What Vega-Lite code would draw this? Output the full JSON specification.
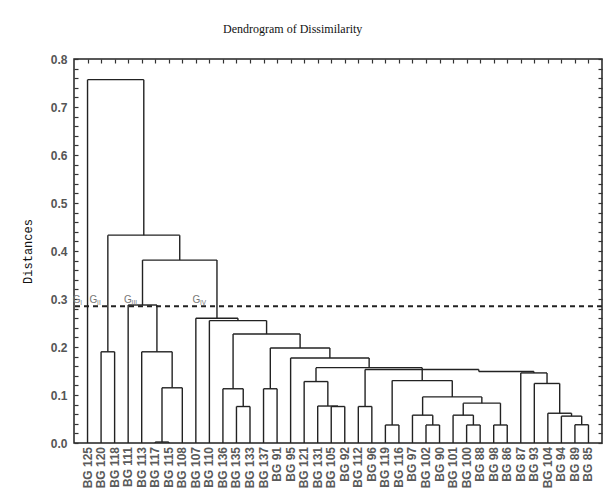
{
  "$schema": "https://vega.github.io/schema/vega-lite/v6.json",
  "width": 528,
  "height": 384,
  "autosize": "none",
  "padding": {"left": 74, "top": 59, "right": 1, "bottom": 59},
  "background": "white",
  "config": {"view": {"stroke": "#222", "strokeWidth": 1.5}},
  "title": {
    "text": "Dendrogram of Dissimilarity",
    "font": "Liberation Serif",
    "fontSize": 12,
    "fontWeight": "normal",
    "color": "#111",
    "anchor": "start",
    "frame": "group",
    "dx": 149,
    "offset": 17
  },
  "datasets": {
    "merges": [
      {"id": "root", "xl": 1, "xr": 5.155, "h": 0.757, "hl": 0, "hr": 0.433},
      {"id": "N", "xl": 2.5, "xr": 7.81, "h": 0.433, "hl": 0.19, "hr": 0.381},
      {"id": "II", "xl": 2, "xr": 3, "h": 0.19, "hl": 0, "hr": 0},
      {"id": "M", "xl": 5.06, "xr": 10.56, "h": 0.381, "hl": 0.2875, "hr": 0.26},
      {"id": "d", "xl": 4, "xr": 6.125, "h": 0.2875, "hl": 0, "hr": 0.19},
      {"id": "c", "xl": 5, "xr": 7.25, "h": 0.19, "hl": 0, "hr": 0.115},
      {"id": "b", "xl": 6.5, "xr": 8, "h": 0.115, "hl": 0.002, "hr": 0},
      {"id": "a", "xl": 6, "xr": 7, "h": 0.002, "hl": 0, "hr": 0},
      {"id": "A", "xl": 9, "xr": 12.11, "h": 0.26, "hl": 0, "hr": 0.255},
      {"id": "B", "xl": 10, "xr": 14.225, "h": 0.255, "hl": 0, "hr": 0.227},
      {"id": "C", "xl": 11.75, "xr": 16.7, "h": 0.227, "hl": 0.113, "hr": 0.198},
      {"id": "f", "xl": 11, "xr": 12.5, "h": 0.113, "hl": 0, "hr": 0.076},
      {"id": "e", "xl": 12, "xr": 13, "h": 0.076, "hl": 0, "hr": 0},
      {"id": "E", "xl": 14.5, "xr": 18.9, "h": 0.198, "hl": 0.113, "hr": 0.177},
      {"id": "g", "xl": 14, "xr": 15, "h": 0.113, "hl": 0, "hr": 0},
      {"id": "G", "xl": 16, "xr": 21.8, "h": 0.177, "hl": 0, "hr": 0.157},
      {"id": "I", "xl": 17.875, "xr": 25.72, "h": 0.157, "hl": 0.128, "hr": 0.13},
      {"id": "H", "xl": 17, "xr": 18.75, "h": 0.128, "hl": 0, "hr": 0.077},
      {"id": "i", "xl": 18, "xr": 19.5, "h": 0.077, "hl": 0, "hr": 0.076},
      {"id": "h", "xl": 19, "xr": 20, "h": 0.076, "hl": 0, "hr": 0},
      {"id": "j", "xl": 21, "xr": 22, "h": 0.076, "hl": 0, "hr": 0},
      {"id": "K", "xl": 21.5, "xr": 29.9, "h": 0.153, "hl": 0.076, "hr": 0.149},
      {"id": "Z", "xl": 29.9, "xr": 33.97, "h": 0.149, "hl": 0.149, "hr": 0.146},
      {"id": "s", "xl": 23.5, "xr": 27.94, "h": 0.13, "hl": 0.0375, "hr": 0.096},
      {"id": "k", "xl": 23, "xr": 24, "h": 0.0375, "hl": 0, "hr": 0},
      {"id": "r", "xl": 25.75, "xr": 30.125, "h": 0.096, "hl": 0.058, "hr": 0.083},
      {"id": "m", "xl": 25, "xr": 26.5, "h": 0.058, "hl": 0, "hr": 0.0375},
      {"id": "l", "xl": 26, "xr": 27, "h": 0.0375, "hl": 0, "hr": 0},
      {"id": "q", "xl": 28.75, "xr": 31.5, "h": 0.083, "hl": 0.058, "hr": 0.0375},
      {"id": "o", "xl": 28, "xr": 29.5, "h": 0.058, "hl": 0, "hr": 0.0375},
      {"id": "n", "xl": 29, "xr": 30, "h": 0.0375, "hl": 0, "hr": 0},
      {"id": "p", "xl": 31, "xr": 32, "h": 0.0375, "hl": 0, "hr": 0},
      {"id": "x", "xl": 33, "xr": 34.94, "h": 0.146, "hl": 0, "hr": 0.124},
      {"id": "w", "xl": 34, "xr": 35.875, "h": 0.124, "hl": 0, "hr": 0.062},
      {"id": "v", "xl": 35, "xr": 36.75, "h": 0.062, "hl": 0, "hr": 0.056},
      {"id": "u", "xl": 36, "xr": 37.5, "h": 0.056, "hl": 0, "hr": 0.038},
      {"id": "t", "xl": 37, "xr": 38, "h": 0.038, "hl": 0, "hr": 0}
    ],
    "leaves": [
      {"pos": 1, "name": "BG 125"}, {"pos": 2, "name": "BG 120"}, {"pos": 3, "name": "BG 118"},
      {"pos": 4, "name": "BG 111"}, {"pos": 5, "name": "BG 113"}, {"pos": 6, "name": "BG 117"},
      {"pos": 7, "name": "BG 115"}, {"pos": 8, "name": "BG 108"}, {"pos": 9, "name": "BG 107"},
      {"pos": 10, "name": "BG 110"}, {"pos": 11, "name": "BG 136"}, {"pos": 12, "name": "BG 135"},
      {"pos": 13, "name": "BG 133"}, {"pos": 14, "name": "BG 137"}, {"pos": 15, "name": "BG 91"},
      {"pos": 16, "name": "BG 95"}, {"pos": 17, "name": "BG 121"}, {"pos": 18, "name": "BG 131"},
      {"pos": 19, "name": "BG 105"}, {"pos": 20, "name": "BG 92"}, {"pos": 21, "name": "BG 112"},
      {"pos": 22, "name": "BG 96"}, {"pos": 23, "name": "BG 119"}, {"pos": 24, "name": "BG 116"},
      {"pos": 25, "name": "BG 97"}, {"pos": 26, "name": "BG 102"}, {"pos": 27, "name": "BG 90"},
      {"pos": 28, "name": "BG 101"}, {"pos": 29, "name": "BG 100"}, {"pos": 30, "name": "BG 88"},
      {"pos": 31, "name": "BG 98"}, {"pos": 32, "name": "BG 86"}, {"pos": 33, "name": "BG 87"},
      {"pos": 34, "name": "BG 93"}, {"pos": 35, "name": "BG 104"}, {"pos": 36, "name": "BG 94"},
      {"pos": 37, "name": "BG 89"}, {"pos": 38, "name": "BG 85"}
    ],
    "groups": [
      {"g": "G", "sub": "I", "x": -0.1, "y": 0.291},
      {"g": "G", "sub": "II", "x": 1.15, "y": 0.291},
      {"g": "G", "sub": "III", "x": 3.7, "y": 0.291},
      {"g": "G", "sub": "IV", "x": 8.75, "y": 0.291}
    ],
    "cut": [{"d": 0.285}]
  },
  "layer": [
    {
      "data": {"name": "merges"},
      "mark": {"type": "rule", "color": "#222", "strokeWidth": 1.4},
      "encoding": {
        "x": {
          "field": "xl", "type": "quantitative",
          "scale": {"domain": [0, 39], "nice": false, "zero": false},
          "axis": {
            "orient": "top", "values": [1,2,3,4,5,6,7,8,9,10,11,12,13,14,15,16,17,18,19,20,21,22,23,24,25,26,27,28,29,30,31,32,33,34,35,36,37,38],
            "labels": false, "tickSize": -4, "tickColor": "#333", "tickWidth": 1.2,
            "domain": false, "grid": false, "title": null
          }
        },
        "x2": {"field": "xr"},
        "y": {
          "field": "h", "type": "quantitative",
          "scale": {"domain": [0, 0.8], "nice": false},
          "axis": {
            "orient": "left",
            "values": [0,0.02,0.04,0.06,0.08,0.1,0.12,0.14,0.16,0.18,0.2,0.22,0.24,0.26,0.28,0.3,0.32,0.34,0.36,0.38,0.4,0.42,0.44,0.46,0.48,0.5,0.52,0.54,0.56,0.58,0.6,0.62,0.64,0.66,0.68,0.7,0.72,0.74,0.76,0.78,0.8],
            "labelExpr": "abs(datum.value*10 - round(datum.value*10)) < 0.01 ? format(datum.value, '.1f') : ''",
            "tickSize": -4, "tickColor": "#333", "tickWidth": 1.2,
            "domain": false, "grid": false,
            "labelFont": "Liberation Sans", "labelFontSize": 12, "labelFontWeight": "bold", "labelColor": "#555",
            "labelPadding": 11,
            "title": "Distances", "titleFont": "Liberation Mono", "titleFontSize": 12, "titleFontWeight": "normal",
            "titleColor": "#111", "titlePadding": 16
          }
        }
      }
    },
    {
      "data": {"name": "merges"},
      "mark": {"type": "rule", "color": "#222", "strokeWidth": 1.4},
      "encoding": {
        "x": {"field": "xl", "type": "quantitative", "scale": {"domain": [0, 39], "nice": false, "zero": false}, "axis": null},
        "y": {
          "field": "hl", "type": "quantitative", "scale": {"domain": [0, 0.8], "nice": false},
          "axis": {
            "orient": "right",
            "values": [0,0.02,0.04,0.06,0.08,0.1,0.12,0.14,0.16,0.18,0.2,0.22,0.24,0.26,0.28,0.3,0.32,0.34,0.36,0.38,0.4,0.42,0.44,0.46,0.48,0.5,0.52,0.54,0.56,0.58,0.6,0.62,0.64,0.66,0.68,0.7,0.72,0.74,0.76,0.78,0.8],
            "labels": false, "tickSize": -4, "tickColor": "#333", "tickWidth": 1.2,
            "domain": false, "grid": false, "title": null
          }
        },
        "y2": {"field": "h"}
      }
    },
    {
      "data": {"name": "merges"},
      "mark": {"type": "rule", "color": "#222", "strokeWidth": 1.4},
      "encoding": {
        "x": {"field": "xr", "type": "quantitative", "scale": {"domain": [0, 39], "nice": false, "zero": false}, "axis": null},
        "y": {"field": "hr", "type": "quantitative", "scale": {"domain": [0, 0.8], "nice": false}, "axis": null},
        "y2": {"field": "h"}
      }
    },
    {
      "data": {"name": "cut"},
      "mark": {"type": "rule", "color": "#222", "strokeWidth": 2, "strokeDash": [5, 4]},
      "encoding": {
        "y": {"field": "d", "type": "quantitative", "scale": {"domain": [0, 0.8], "nice": false}, "axis": null}
      }
    },
    {
      "data": {"name": "leaves"},
      "mark": {"type": "text", "angle": 270, "align": "right", "baseline": "middle", "dx": -4,
               "font": "Liberation Sans", "fontSize": 12, "fontWeight": "bold", "color": "#5a5a5a"},
      "encoding": {
        "x": {"field": "pos", "type": "quantitative", "scale": {"domain": [0, 39], "nice": false, "zero": false}, "axis": null},
        "y": {"datum": 0, "type": "quantitative", "scale": {"domain": [0, 0.8], "nice": false}, "axis": null},
        "text": {"field": "name"}
      }
    },
    {
      "data": {"name": "groups"},
      "mark": {"type": "text", "align": "left", "baseline": "alphabetic", "font": "Liberation Sans", "fontSize": 10, "color": "#777"},
      "encoding": {
        "x": {"field": "x", "type": "quantitative", "scale": {"domain": [0, 39], "nice": false, "zero": false}, "axis": null},
        "y": {"field": "y", "type": "quantitative", "scale": {"domain": [0, 0.8], "nice": false}, "axis": null},
        "text": {"field": "g"}
      }
    },
    {
      "data": {"name": "groups"},
      "mark": {"type": "text", "align": "left", "baseline": "alphabetic", "dx": 7.5, "dy": 2, "font": "Liberation Sans", "fontSize": 6.5, "color": "#777"},
      "encoding": {
        "x": {"field": "x", "type": "quantitative", "scale": {"domain": [0, 39], "nice": false, "zero": false}, "axis": null},
        "y": {"field": "y", "type": "quantitative", "scale": {"domain": [0, 0.8], "nice": false}, "axis": null},
        "text": {"field": "sub"}
      }
    }
  ],
  "resolve": {"axis": {"x": "independent", "y": "independent"}}
}
